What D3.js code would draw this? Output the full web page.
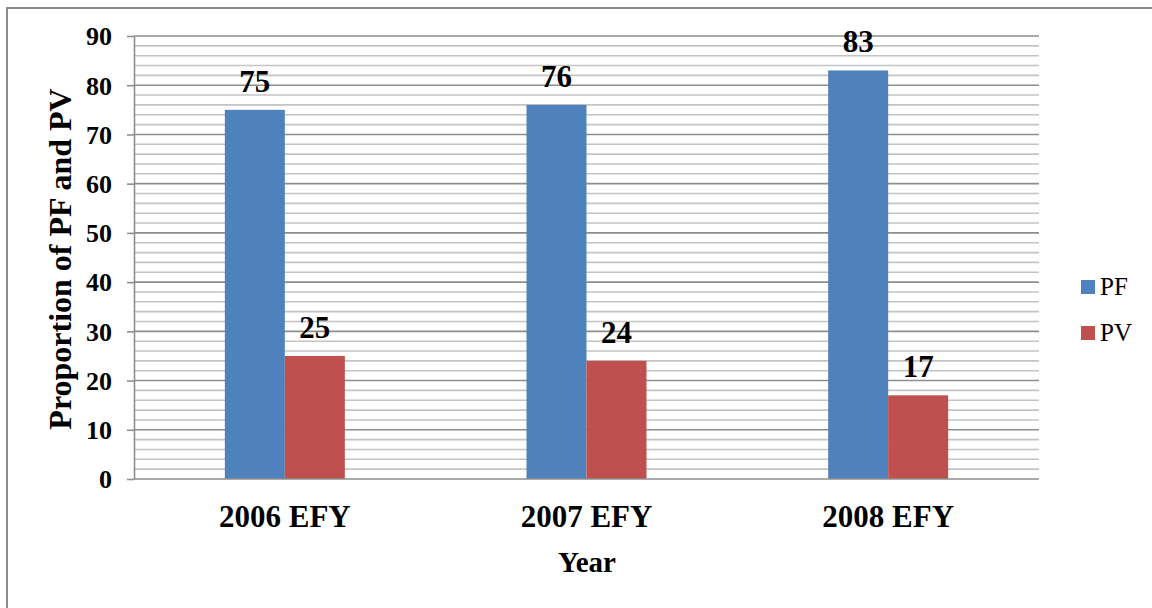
<!DOCTYPE html>
<html>
<head>
<meta charset="utf-8">
<script src="https://cdn.jsdelivr.net/npm/d3@7"></script>
<style>
  html, body { margin: 0; padding: 0; background: #fff; }
  svg { display: block; }
</style>
</head>
<body>
<svg id="chart" width="1152" height="608"></svg>
<script>
// Data
const categories = ["2006 EFY", "2007 EFY", "2008 EFY"];
const seriesNames = ["PF", "PV"];
const pfValues = [75, 76, 83];
const pvValues = [25, 24, 17];
const yTicks = [0, 10, 20, 30, 40, 50, 60, 70, 80, 90];
const seriesColors = ["#4f81bd", "#c0504d"];

const FONT = "'Liberation Serif', 'Times New Roman', Times, 'DejaVu Serif', serif";

const seriesValues = [pfValues, pvValues];
const rows = categories.map((c, i) => ({
  category: c,
  values: seriesNames.map((s, j) => ({ key: s, value: seriesValues[j][i] }))
}));

const svg = d3.select("#chart");

// Outer chart frame
svg.append("rect")
  .attr("x", 7).attr("y", 8)
  .attr("width", 1160).attr("height", 620)
  .attr("fill", "none")
  .attr("stroke", "#8c8c8c")
  .attr("stroke-width", 2);

const plot = { left: 134, right: 1039, top: 36, bottom: 479 };

const y = d3.scaleLinear().domain([0, 90]).range([plot.bottom, plot.top]);
const x0 = d3.scaleBand().domain(categories).range([plot.left, plot.right]).padding(0);
const x1 = d3.scaleBand().domain(seriesNames).range([0, x0.bandwidth()])
  .paddingInner(0).paddingOuter(1.514);
const color = d3.scaleOrdinal().domain(seriesNames).range(seriesColors);

// Minor gridlines every 2 units
const minor = d3.range(2, 91, 2).filter(v => v % 10 !== 0);
svg.append("g").selectAll("line").data(minor).join("line")
  .attr("x1", plot.left).attr("x2", plot.right)
  .attr("y1", d => y(d)).attr("y2", d => y(d))
  .attr("stroke", "#c4c4c4").attr("stroke-width", 1.6);

// Major gridlines
svg.append("g").selectAll("line").data(yTicks.filter(v => v > 0)).join("line")
  .attr("x1", plot.left).attr("x2", plot.right)
  .attr("y1", d => y(d)).attr("y2", d => y(d))
  .attr("stroke", "#8e8e8e").attr("stroke-width", 1.6);

// Y axis with outward ticks
const yAxis = svg.append("g")
  .attr("transform", `translate(${plot.left},0)`)
  .call(d3.axisLeft(y).tickValues(yTicks).tickSize(7).tickSizeOuter(0).tickPadding(15));
yAxis.select(".domain").attr("stroke", "#8e8e8e").attr("stroke-width", 1.6);
yAxis.selectAll(".tick line").attr("stroke", "#8e8e8e").attr("stroke-width", 1.6);
yAxis.selectAll(".tick text")
  .style("font-family", FONT)
  .style("font-size", "26px").style("font-weight", "bold").attr("fill", "#000")
  .attr("dy", "0.34em");

// Bars
const groups = svg.append("g").selectAll("g").data(rows).join("g")
  .attr("transform", d => `translate(${x0(d.category)},0)`);

groups.selectAll("rect").data(d => d.values).join("rect")
  .attr("x", d => x1(d.key))
  .attr("width", x1.bandwidth())
  .attr("y", d => y(d.value))
  .attr("height", d => y(0) - y(d.value))
  .attr("fill", d => color(d.key));

// Value labels
groups.selectAll("text").data(d => d.values).join("text")
  .attr("x", d => x1(d.key) + x1.bandwidth() / 2)
  .attr("y", d => y(d.value) - 18)
  .attr("text-anchor", "middle")
  .style("font-family", FONT)
  .style("font-size", "31px").style("font-weight", "bold")
  .text(d => d.value);

// X axis baseline
svg.append("line")
  .attr("x1", plot.left).attr("x2", plot.right)
  .attr("y1", y(0)).attr("y2", y(0))
  .attr("stroke", "#8e8e8e").attr("stroke-width", 1.6);

// Category labels
svg.append("g").selectAll("text").data(categories).join("text")
  .attr("x", d => x0(d) + x0.bandwidth() / 2)
  .attr("y", 527)
  .attr("text-anchor", "middle")
  .style("font-family", FONT)
  .style("font-size", "31px").style("font-weight", "bold")
  .text(d => d);

// Axis titles
svg.append("text")
  .attr("x", 587).attr("y", 572)
  .attr("text-anchor", "middle")
  .style("font-family", FONT)
  .style("font-size", "29px").style("font-weight", "bold")
  .text("Year");

svg.append("text")
  .attr("transform", "translate(71,259) rotate(-90)")
  .attr("text-anchor", "middle")
  .style("font-family", FONT)
  .style("font-size", "32px").style("font-weight", "bold")
  .text("Proportion of PF and PV");

// Legend
const legend = svg.append("g").selectAll("g").data(seriesNames).join("g")
  .attr("transform", (d, i) => `translate(1081,${280 + i * 46})`);
legend.append("rect")
  .attr("width", 14).attr("height", 14)
  .attr("fill", d => color(d));
legend.append("text")
  .attr("x", 19).attr("y", 15)
  .style("font-family", FONT)
  .style("font-size", "25px")
  .text(d => d);
</script>
</body>
</html>
